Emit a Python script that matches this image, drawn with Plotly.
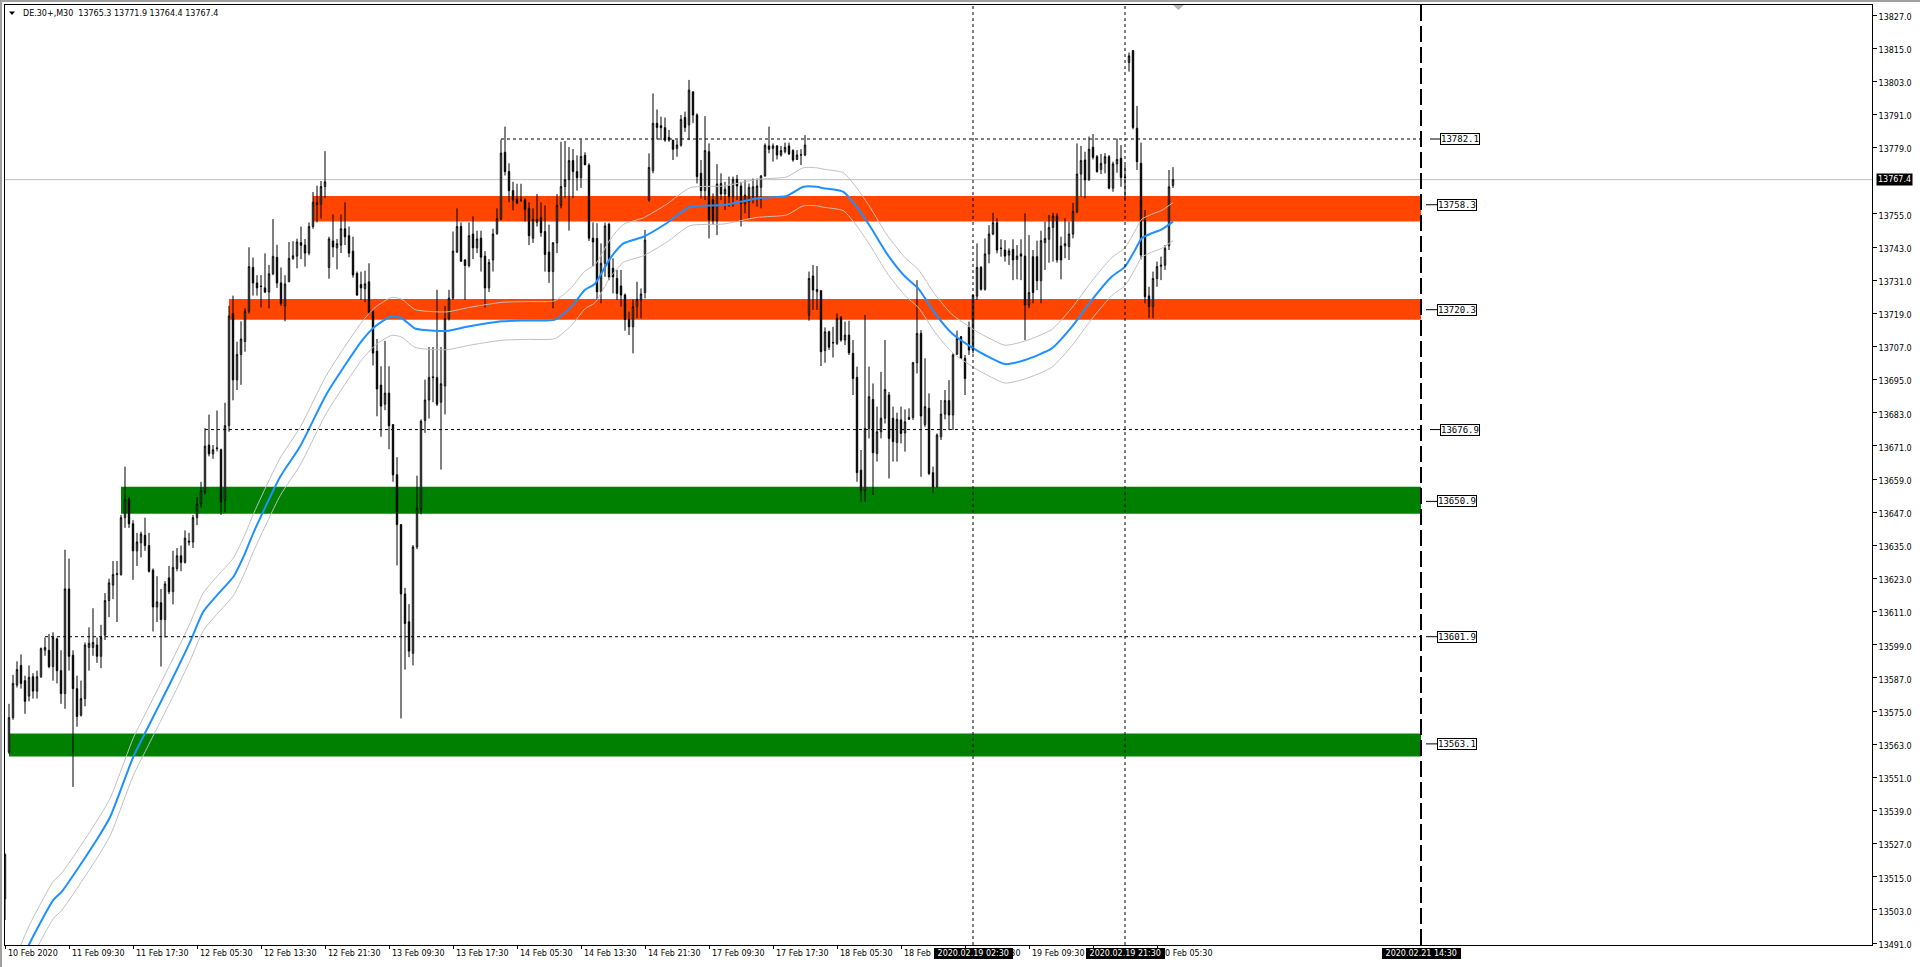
import plotly.graph_objects as go

# ---------------- DATA ----------------
symbol = "DE.30+,M30"

opens = [
13507.0,13560.1,13572.6,13584.4,13591.5,13586.0,13580.4,13587.4,13582.2,13587.4,
13597.0,13597.0,13591.1,13601.1,13589.6,13581.3,13619.2,13595.2,13583.1,13573.5,
13579.5,13598.0,13598.0,13598.9,13594.8,13602.5,13615.0,13620.6,13624.4,13624.4,
13645.0,13651.8,13642.8,13633.0,13635.9,13638.6,13634.9,13626.0,13612.7,13614.2,
13608.1,13623.2,13618.2,13626.6,13631.2,13628.8,13636.5,13636.2,13645.0,13650.0,
13654.3,13671.3,13668.1,13670.0,13669.6,13651.5,13678.3,13718.9,13694.9,13704.1,
13708.8,13719.8,13735.6,13730.0,13728.7,13728.2,13726.7,13733.3,13739.2,13730.0,
13721.7,13730.4,13738.9,13739.7,13744.6,13743.7,13740.8,13750.4,13759.0,13758.5,
13764.9,13735.6,13745.2,13742.7,13743.7,13749.6,13747.1,13741.5,13733.4,13729.4,
13727.9,13730.4,13719.6,13705.3,13693.0,13686.1,13690.1,13678.7,13660.5,13642.5,
13617.4,13607.3,13595.9,13634.4,13648.0,13680.2,13687.6,13695.7,13695.7,13686.8,
13692.7,13717.1,13724.5,13741.2,13750.4,13738.3,13736.3,13747.7,13742.7,13746.2,
13739.7,13728.2,13738.3,13747.9,13753.3,13777.3,13770.3,13763.4,13760.4,13760.0,
13760.0,13757.0,13746.2,13751.9,13753.6,13748.6,13741.2,13734.1,13744.5,13758.1,
13764.9,13767.4,13774.3,13770.3,13768.1,13776.2,13772.6,13746.2,13746.1,13726.8,
13737.1,13751.2,13735.3,13731.6,13728.9,13725.6,13716.8,13714.1,13721.4,13723.8,
13726.5,13760.0,13770.6,13787.8,13786.9,13786.2,13782.7,13781.7,13778.7,13779.9,
13789.9,13787.2,13799.2,13790.8,13769.7,13763.4,13777.5,13760.2,13752.5,13766.0,
13762.2,13765.1,13761.2,13767.5,13765.1,13758.6,13759.4,13761.2,13761.0,13764.6,
13768.7,13779.6,13778.7,13779.6,13776.3,13777.5,13779.6,13777.9,13774.7,13776.3,
13776.3,13718.4,13732.5,13726.8,13727.2,13705.5,13712.3,13708.4,13708.1,13717.4,
13709.3,13711.1,13704.5,13695.8,13662.2,13654.8,13677.3,13687.8,13668.2,13676.1,
13681.0,13689.4,13681.0,13672.2,13680.4,13675.7,13680.6,13681.3,13701.1,13711.7,
13678.7,13684.6,13661.3,13656.2,13674.3,13682.5,13687.4,13682.2,13704.2,13710.5,
13702.7,13714.1,13705.7,13725.2,13735.6,13727.7,13740.5,13747.7,13751.8,13742.6,
13741.9,13740.1,13742.1,13738.5,13740.5,13739.7,13722.0,13739.5,13739.5,13730.8,
13744.6,13745.8,13750.1,13754.2,13743.4,13743.4,13743.2,13747.7,13755.8,13769.4,
13774.5,13767.3,13779.1,13775.7,13771.1,13773.3,13775.7,13764.3,13773.1,13775.1,
13768.3,13809.8,13814.1,13786.0,13773.3,13752.8,13725.3,13721.4,13731.6,13736.0,
13736.4,13743.4,13765.3]

highs = [
13523.5,13577.6,13588.1,13593.0,13595.5,13587.8,13591.5,13588.7,13589.6,13598.0,
13601.6,13602.9,13603.5,13601.6,13597.0,13633.4,13630.2,13597.0,13587.8,13586.0,
13599.8,13605.3,13612.2,13601.6,13606.2,13617.7,13622.9,13629.3,13629.3,13646.0,
13663.5,13652.4,13644.1,13639.5,13639.9,13645.0,13639.5,13626.6,13623.8,13619.2,
13622.0,13627.5,13633.0,13634.0,13634.9,13640.4,13639.5,13646.0,13652.4,13658.0,
13677.4,13682.3,13671.3,13683.8,13670.0,13686.6,13721.7,13725.4,13708.7,13716.1,
13720.8,13742.9,13739.2,13732.8,13732.8,13740.7,13736.5,13753.1,13743.8,13735.6,
13732.8,13744.8,13745.1,13746.0,13750.4,13745.9,13751.9,13762.9,13765.2,13766.9,
13777.7,13746.7,13754.8,13745.9,13754.8,13759.2,13750.4,13746.7,13734.1,13734.1,
13734.4,13737.1,13720.1,13709.7,13699.8,13709.0,13699.8,13678.7,13666.9,13642.5,
13619.6,13613.7,13635.1,13660.2,13680.6,13695.0,13706.8,13706.8,13727.5,13706.8,
13721.6,13727.5,13748.6,13757.0,13751.9,13738.6,13751.9,13754.1,13748.9,13748.9,
13741.5,13738.6,13749.6,13757.0,13781.9,13786.6,13773.3,13766.6,13765.9,13765.9,
13760.7,13759.2,13757.0,13762.2,13759.2,13758.1,13751.1,13744.8,13762.2,13781.1,
13781.4,13779.2,13778.5,13776.2,13781.9,13777.3,13773.3,13751.9,13751.6,13744.3,
13751.8,13751.8,13738.9,13734.7,13734.7,13726.2,13719.6,13724.0,13730.4,13728.0,
13749.2,13776.9,13798.6,13792.8,13790.2,13789.9,13785.4,13781.7,13781.7,13790.8,
13792.0,13803.5,13799.2,13791.4,13774.5,13790.4,13780.5,13762.4,13773.0,13769.7,
13766.6,13768.5,13768.5,13769.1,13766.6,13767.2,13766.0,13767.8,13767.8,13769.1,
13780.5,13786.6,13780.5,13779.9,13779.6,13780.8,13780.8,13778.4,13778.1,13778.4,
13783.5,13734.1,13736.5,13736.1,13727.2,13713.9,13712.7,13714.1,13719.0,13718.0,
13716.0,13716.3,13709.3,13699.7,13669.5,13718.4,13699.7,13693.6,13685.2,13697.8,
13709.3,13690.5,13685.2,13683.0,13685.2,13684.2,13684.6,13701.4,13731.0,13712.9,
13702.7,13690.0,13663.5,13675.5,13687.6,13691.2,13694.8,13704.5,13712.7,13710.8,
13703.9,13716.0,13725.6,13744.3,13736.1,13746.1,13750.9,13755.4,13753.4,13745.8,
13745.5,13742.5,13745.8,13743.7,13745.8,13755.2,13747.3,13741.9,13745.3,13748.9,
13752.2,13754.6,13755.4,13755.2,13746.7,13753.4,13752.2,13759.0,13780.5,13779.6,
13777.5,13783.0,13783.9,13776.3,13776.7,13777.0,13776.3,13773.9,13782.3,13779.9,
13772.7,13813.4,13814.3,13794.1,13780.8,13756.4,13728.6,13734.1,13737.7,13739.5,
13743.7,13770.9,13771.9]

lows = [
13499.3,13559.5,13571.8,13583.5,13583.1,13574.0,13578.5,13579.5,13579.5,13587.0,
13595.0,13590.5,13586.0,13585.0,13577.6,13575.8,13589.6,13547.5,13569.3,13573.0,
13576.7,13589.6,13595.0,13592.4,13590.5,13600.7,13609.0,13615.5,13607.2,13624.0,
13641.3,13641.3,13622.5,13627.5,13630.6,13633.0,13625.1,13603.8,13607.2,13591.1,
13601.6,13617.3,13613.6,13625.6,13625.6,13628.4,13634.9,13634.0,13642.3,13648.7,
13653.4,13667.2,13666.3,13669.0,13646.0,13646.9,13676.1,13687.5,13691.2,13693.1,
13705.1,13718.9,13725.4,13725.4,13721.1,13726.3,13720.8,13732.8,13728.2,13721.7,
13716.1,13730.4,13738.3,13735.3,13738.6,13735.9,13740.0,13749.6,13751.9,13753.3,
13760.7,13731.5,13739.3,13734.9,13740.8,13743.7,13739.3,13731.9,13725.3,13723.8,
13723.0,13718.6,13700.1,13681.7,13674.3,13683.9,13669.8,13658.0,13627.7,13572.3,
13590.0,13594.5,13591.5,13633.6,13646.2,13675.7,13680.9,13686.8,13685.4,13662.4,
13682.4,13716.4,13723.8,13740.8,13737.8,13723.8,13735.6,13738.6,13740.8,13734.1,
13721.1,13726.7,13734.1,13747.4,13752.6,13768.9,13759.2,13756.3,13758.5,13759.3,
13752.2,13743.7,13744.5,13750.4,13746.7,13734.1,13730.0,13720.8,13740.8,13757.0,
13760.7,13748.9,13760.7,13763.4,13764.4,13772.6,13745.2,13736.0,13723.8,13722.6,
13732.2,13731.0,13726.2,13723.8,13721.4,13712.7,13711.1,13704.5,13717.2,13717.2,
13724.4,13759.4,13769.7,13782.0,13781.7,13781.1,13781.1,13774.5,13775.7,13779.3,
13784.7,13781.7,13787.8,13766.0,13760.6,13760.0,13746.1,13751.0,13747.3,13760.0,
13756.4,13757.6,13757.6,13760.0,13750.4,13755.2,13753.4,13758.8,13757.6,13757.0,
13768.5,13776.9,13773.9,13774.7,13775.7,13776.9,13776.3,13773.9,13774.5,13772.7,
13775.9,13716.3,13720.2,13720.2,13699.9,13701.1,13705.7,13703.0,13707.5,13708.7,
13707.5,13703.9,13689.4,13658.0,13650.8,13650.8,13673.7,13653.2,13665.3,13673.7,
13679.1,13659.2,13665.3,13665.3,13671.9,13668.9,13680.4,13680.4,13697.2,13659.8,
13677.9,13660.4,13654.0,13656.0,13673.1,13680.6,13676.7,13676.7,13703.9,13702.7,
13689.4,13703.9,13704.5,13723.8,13727.2,13727.2,13737.1,13747.3,13740.7,13739.5,
13737.7,13736.5,13731.0,13731.3,13731.0,13709.3,13720.8,13722.6,13727.4,13722.6,
13734.7,13737.3,13737.7,13737.3,13731.3,13738.9,13738.3,13746.1,13755.2,13761.2,
13760.6,13767.0,13774.7,13769.9,13769.4,13769.7,13763.9,13763.0,13769.9,13764.8,
13760.3,13806.5,13785.6,13770.9,13738.5,13722.6,13717.2,13717.2,13728.6,13731.0,
13734.7,13741.9,13764.4]

closes = [
13523.0,13572.6,13585.0,13590.0,13585.0,13578.5,13587.2,13582.2,13587.4,13597.6,
13598.0,13591.1,13601.6,13589.6,13581.3,13619.2,13594.8,13583.1,13573.0,13579.5,
13598.9,13599.5,13599.8,13594.8,13601.6,13615.0,13621.4,13624.4,13624.7,13645.0,
13651.5,13642.8,13633.0,13636.2,13639.1,13634.9,13625.6,13612.7,13614.5,13608.1,
13621.0,13618.2,13627.0,13631.2,13628.8,13637.6,13636.2,13645.0,13650.0,13654.8,
13670.9,13668.1,13669.6,13670.2,13650.6,13678.3,13718.0,13694.9,13704.1,13709.7,
13719.8,13735.9,13730.0,13728.2,13728.8,13726.7,13733.3,13739.6,13730.0,13722.6,
13729.6,13738.9,13739.8,13744.8,13743.6,13740.8,13750.4,13759.2,13758.4,13764.9,
13766.6,13745.9,13743.0,13744.2,13749.6,13746.7,13740.8,13732.9,13725.6,13728.2,
13729.7,13719.3,13704.6,13691.6,13685.4,13690.1,13678.3,13660.5,13642.5,13617.4,
13606.7,13596.7,13634.4,13648.4,13679.9,13687.6,13695.7,13695.9,13686.1,13693.5,
13717.1,13724.5,13741.5,13750.4,13737.8,13736.3,13747.1,13742.7,13745.9,13739.3,
13728.2,13737.4,13747.7,13753.3,13777.0,13770.3,13763.4,13760.0,13758.9,13760.0,
13756.6,13747.1,13753.0,13753.0,13748.2,13740.3,13734.1,13744.5,13758.1,13764.9,
13767.4,13774.3,13770.3,13768.1,13775.8,13772.8,13746.2,13744.8,13726.8,13737.1,
13750.6,13732.2,13732.2,13726.2,13725.6,13716.8,13714.1,13721.4,13724.1,13726.0,
13745.5,13771.8,13787.8,13786.3,13786.2,13781.7,13781.7,13778.4,13779.9,13789.2,
13786.3,13799.8,13790.8,13768.5,13763.4,13777.9,13752.8,13752.5,13765.8,13762.2,
13763.9,13761.2,13767.5,13765.1,13758.8,13761.8,13764.6,13764.8,13765.1,13768.7,
13779.8,13778.4,13779.6,13776.3,13777.9,13779.1,13776.7,13774.5,13776.3,13776.4,
13779.9,13731.6,13727.4,13727.6,13705.1,13712.3,13706.7,13708.3,13717.2,13709.3,
13711.1,13704.7,13695.4,13661.3,13654.8,13677.3,13688.8,13668.5,13676.1,13681.0,
13691.4,13673.7,13672.5,13680.6,13675.5,13679.7,13681.3,13701.1,13711.7,13681.8,
13685.2,13661.0,13656.2,13674.9,13682.5,13687.4,13682.2,13703.9,13709.9,13702.7,
13695.4,13705.7,13725.6,13735.6,13727.7,13740.5,13747.7,13751.8,13741.9,13742.5,
13739.7,13741.6,13738.3,13739.7,13739.7,13722.0,13726.5,13726.5,13730.8,13745.3,
13746.1,13750.1,13754.2,13738.3,13738.3,13744.2,13747.7,13755.8,13769.4,13774.3,
13767.3,13778.4,13775.5,13770.3,13773.3,13775.7,13764.3,13773.1,13774.7,13768.2,
13768.2,13812.2,13786.3,13773.9,13740.1,13725.0,13721.4,13731.6,13735.9,13736.4,
13742.5,13764.8,13767.4]

# moving average and envelope deviation (%)
ma_bar = [3.5, 6.2, 12.1, 14.2, 22.9, 26.3, 32.1, 35.4, 42.1, 46.3, 49.6, 53.8, 57.1, 60.0,
          62.1, 68.8, 73.8, 80.4, 89.2, 92.5, 96.7, 99.2, 102.5, 107.5, 110.8, 115.8, 124.2,
          130.8, 137.5, 141.7, 145.0, 147.5, 151.3, 154.6, 159.6, 165.4, 171.3, 179.6, 188.0,
          195.4, 199.6, 202.9, 204.6, 209.6, 212.9, 216.3, 220.5, 225.0, 228.3, 232.5, 236.7,
          242.1, 245.0, 250.0, 255.0, 261.7, 266.7, 271.7, 276.7, 280.0, 282.5, 284.2, 286.7,
          289.2, 292.0]
ma_val = [13482.0, 13491.0, 13506.6, 13509.6, 13528.3, 13536.7, 13558.5, 13568.1, 13587.4,
          13600.1, 13611.0, 13618.2, 13623.6, 13632.1, 13639.5, 13659.8, 13670.9, 13689.8,
          13709.0, 13714.2, 13717.9, 13717.2, 13713.5, 13712.7, 13712.7, 13714.2, 13716.1,
          13716.4, 13716.7, 13721.6, 13727.5, 13729.7, 13738.9, 13744.3, 13746.7, 13751.6,
          13757.6, 13758.2, 13760.6, 13761.5, 13764.8, 13764.8, 13764.3, 13763.0, 13757.6,
          13750.4, 13740.5, 13732.3, 13728.0, 13719.0, 13711.8, 13706.3, 13703.9, 13700.6,
          13702.1, 13706.3, 13714.1, 13723.8, 13732.3, 13735.9, 13741.9, 13746.2, 13748.0,
          13749.4, 13752.2]
envelope_pct = 0.05

# supply / demand zones
zone_start = [77, 56, 29, 1]
zone_low = [13752.2, 13716.7, 13646.4, 13558.5]
zone_high = [13761.5, 13724.2, 13656.2, 13566.9]
zone_color = ["#FF4500", "#FF4500", "#008000", "#008000"]

# dotted price levels
level_start = [124, 50, 10]
level_price = [13782.1, 13676.9, 13601.9]

# right-hand price labels
label_text = ["13782.1", "13758.3", "13720.3", "13676.9", "13650.9", "13601.9", "13563.1"]
label_price = [13782.1, 13758.3, 13720.3, 13676.9, 13650.9, 13601.9, 13563.1]

# time markers
future_bar = 354
future_text = "2020.02.21 14:30"
vline_bars = [242, 280]
vline_text = ["2020.02.19 02:30", "2020.02.19 21:30"]

time_tick_bars = [0, 16, 32, 48, 64, 80, 96, 112, 128, 144, 160, 176, 192, 208, 224, 240, 256, 272, 288]
time_tick_text = ["10 Feb 2020", "11 Feb 09:30", "11 Feb 17:30", "12 Feb 05:30", "12 Feb 13:30",
                  "12 Feb 21:30", "13 Feb 09:30", "13 Feb 17:30", "14 Feb 05:30", "14 Feb 13:30",
                  "14 Feb 21:30", "17 Feb 09:30", "17 Feb 17:30", "18 Feb 05:30", "18 Feb 13:30",
                  "18 Feb 21:30", "19 Feb 09:30", "19 Feb 17:30", "20 Feb 05:30"]

price_ticks = [13491, 13503, 13515, 13527, 13539, 13551, 13563, 13575, 13587, 13599, 13611,
               13623, 13635, 13647, 13659, 13671, 13683, 13695, 13707, 13719, 13731, 13743,
               13755, 13779, 13791, 13803, 13815, 13827]

# ---------------- FIGURE ----------------
bars = list(range(len(opens)))
last_close = closes[-1]

# layout geometry (pixels)
W, H = 1920, 967
ML, MR, MT, MB = 5, 48, 5, 22
PW, PH = W - ML - MR, H - MT - MB


def px_x(px):
    return (px - ML) / PW


def px_y(py):
    return (H - MB - py) / PH


label_box_x = [358.75, 358.0, 358.0, 358.75, 358.0, 358.0, 358.0]
label_line_x0 = [356.25, 355.25, 355.25, 356.25, 355.25, 355.25, 355.25]

fig = go.Figure()

fig.add_trace(go.Candlestick(
    x=bars, open=opens, high=highs, low=lows, close=closes,
    increasing=dict(line=dict(color="black", width=1), fillcolor="white"),
    decreasing=dict(line=dict(color="black", width=1), fillcolor="black"),
    whiskerwidth=0, hoverinfo="skip", showlegend=False))

env_up = [v * (1 + envelope_pct / 100) for v in ma_val]
env_dn = [v * (1 - envelope_pct / 100) for v in ma_val]
for env in (env_up, env_dn):
    fig.add_trace(go.Scatter(x=ma_bar, y=env, mode="lines",
                             line=dict(color="#C0C0C0", width=1, shape="spline", smoothing=0.6),
                             hoverinfo="skip", showlegend=False))
fig.add_trace(go.Scatter(x=ma_bar, y=ma_val, mode="lines",
                         line=dict(color="#1E90FF", width=2, shape="spline", smoothing=0.6),
                         hoverinfo="skip", showlegend=False))

shapes = []
for s, lo, hi, col in zip(zone_start, zone_low, zone_high, zone_color):
    shapes.append(dict(type="rect", xref="x", yref="y", x0=s, x1=future_bar, y0=lo, y1=hi,
                       fillcolor=col, line=dict(width=0), layer="below"))
shapes.append(dict(type="line", xref="paper", yref="y", x0=0, x1=1, y0=last_close, y1=last_close,
                   line=dict(color="#C0C0C0", width=1), layer="below"))
for s, p in zip(level_start, level_price):
    shapes.append(dict(type="line", xref="x", yref="y", x0=s, x1=future_bar, y0=p, y1=p,
                       line=dict(color="black", width=1, dash="3px,3px")))
for b in vline_bars:
    shapes.append(dict(type="line", xref="x", yref="paper", x0=b, x1=b, y0=0, y1=1,
                       line=dict(color="black", width=1, dash="3px,3px")))
shapes.append(dict(type="line", xref="x", yref="paper", x0=future_bar, x1=future_bar, y0=0, y1=1,
                   line=dict(color="black", width=2, dash="16px,5px")))
for p, x0, x1 in zip(label_price, label_line_x0, label_box_x):
    shapes.append(dict(type="line", xref="x", yref="y", x0=x0, x1=x1, y0=p, y1=p,
                       line=dict(color="black", width=1)))
# header triangle
shapes.append(dict(type="path", xref="paper", yref="paper",
                   path=f"M {px_x(9)},{px_y(11.5)} L {px_x(15)},{px_y(11.5)} L {px_x(12)},{px_y(15)} Z",
                   fillcolor="black", line=dict(width=0)))
# chart-shift marker at the top
shapes.append(dict(type="path", xref="paper", yref="paper",
                   path=f"M {px_x(1173)},{px_y(5)} L {px_x(1184)},{px_y(5)} L {px_x(1178.5)},{px_y(10)} Z",
                   fillcolor="#B4B4B4", line=dict(width=0)))
# outer window frame
shapes.append(dict(type="line", xref="paper", yref="paper", x0=px_x(1), x1=px_x(1), y0=px_y(0), y1=px_y(H),
                   line=dict(color="#A0A0A0", width=2)))
shapes.append(dict(type="line", xref="paper", yref="paper", x0=px_x(0), x1=px_x(W), y0=px_y(1), y1=px_y(1),
                   line=dict(color="#A0A0A0", width=2)))

annotations = []
axis_font = dict(family="DejaVu Sans", size=8, color="black")
for b, t in zip(time_tick_bars, time_tick_text):
    annotations.append(dict(x=b, y=0, xref="x", yref="paper", text=t, showarrow=False,
                            xanchor="left", yanchor="middle", xshift=1, yshift=-8.7, font=axis_font))
for b, t in zip(vline_bars + [future_bar], vline_text + [future_text]):
    annotations.append(dict(x=b, y=0, xref="x", yref="paper", text="\u00a0" + t + "\u00a0", showarrow=False,
                            xanchor="center", yanchor="middle", yshift=-8.7, bgcolor="black",
                            borderpad=0, borderwidth=1, bordercolor="black",
                            font=dict(family="DejaVu Sans", size=8, color="white")))
annotations.append(dict(x=1, y=last_close, xref="paper", yref="y", text=f"{last_close:.1f}", showarrow=False,
                        xanchor="left", yanchor="middle", xshift=4, bgcolor="black", borderpad=1,
                        font=dict(family="DejaVu Sans", size=8, color="white")))
for t, p, bx in zip(label_text, label_price, label_box_x):
    annotations.append(dict(x=bx, y=p, xref="x", yref="y", text=t, showarrow=False,
                            xanchor="left", yanchor="middle", bgcolor="white", bordercolor="black",
                            borderwidth=1, borderpad=0,
                            font=dict(family="DejaVu Sans Mono", size=9, color="black")))
header = (f"{symbol}\u00a0\u00a0{opens[-1]:.1f} {highs[-1]:.1f} {lows[-1]:.1f} {closes[-1]:.1f}")
annotations.append(dict(x=px_x(20.5), y=px_y(13.3), xref="paper", yref="paper", text=header, showarrow=False,
                        xanchor="left", yanchor="middle", font=axis_font))

fig.update_layout(
    width=W, height=H,
    margin=dict(l=ML, r=MR, t=MT, b=MB, pad=0),
    paper_bgcolor="white", plot_bgcolor="white",
    showlegend=False, boxgap=0.5,
    shapes=shapes, annotations=annotations,
    xaxis=dict(range=[0, 466.75], rangeslider=dict(visible=False), showgrid=False, zeroline=False,
               showline=True, mirror=True, linecolor="black", linewidth=1,
               ticks="outside", tickvals=time_tick_bars, ticklen=3, tickcolor="black",
               showticklabels=False, fixedrange=True),
    yaxis=dict(range=[13490.28, 13830.62], side="right", showgrid=False, zeroline=False,
               showline=True, mirror=True, linecolor="black", linewidth=1,
               ticks="outside", ticklen=4, tickcolor="black",
               tickvals=price_ticks, ticktext=[f"{v:.1f}" for v in price_ticks],
               ticklabelshift=2,
               tickfont=axis_font, fixedrange=True),
)

fig.write_html("out.html", config={"displayModeBar": False},
               post_script="document.body.style.margin='0';document.body.style.overflow='hidden';")
